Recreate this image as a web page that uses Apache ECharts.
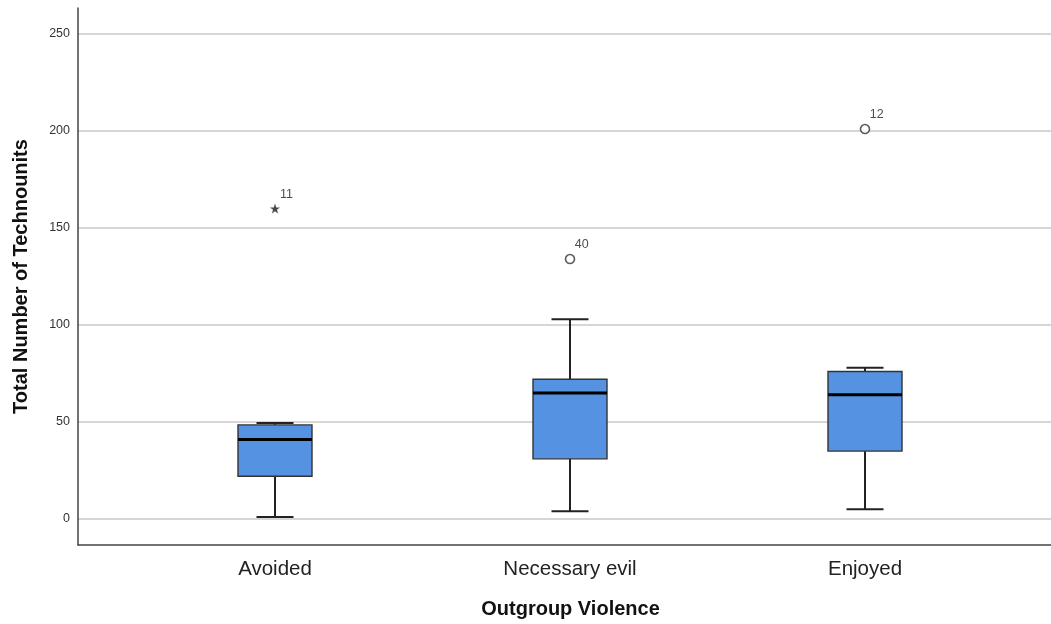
<!DOCTYPE html>
<html>
<head>
<meta charset="utf-8">
<title>Total Number of Technounits by Outgroup Violence</title>
<script src="https://cdn.jsdelivr.net/npm/echarts@6/dist/echarts.min.js"></script>
<style>
  html, body { margin: 0; padding: 0; background: #ffffff; }
  #chart { width: 1051px; height: 624px; }
</style>
</head>
<body>
<div id="chart"></div>
<script>
// Groups along the horizontal axis
const categories = ['Avoided', 'Necessary evil', 'Enjoyed'];

// Five-number summaries per group
const whiskerLow = [1, 4, 5];
const q1 = [22, 31, 35];
const medians = [41, 65, 64];
const q3 = [48.5, 72, 76];
const whiskerHigh = [49.5, 103, 78];

// Points beyond the whiskers: group position, value, case number, kind
const outlierGroup = [1, 2, 3];
const outlierValues = [160, 134, 201];
const outlierCase = ['11', '40', '12'];
const outlierKind = ['extreme', 'outlier', 'outlier'];

// Value axis ticks
const yTicks = [0, 50, 100, 150, 200, 250];

const FONT = '"Liberation Sans", Arial, sans-serif';
const BOX_W = 74;
const CAP_W = 37;

const boxData = categories.map((c, i) => [i + 1, whiskerLow[i], q1[i], medians[i], q3[i], whiskerHigh[i]]);

const STAR = 'path://M50,0 L61.8,35.1 L98.9,35.1 L69,56.9 L80.3,91.9 L50,70.2 L19.7,91.9 L31,56.9 L1.1,35.1 L38.2,35.1 Z';

const outlierData = outlierValues.map((v, i) => ({
  value: [outlierGroup[i], v],
  caseId: outlierCase[i],
  symbol: outlierKind[i] === 'extreme' ? STAR : 'circle',
  symbolSize: outlierKind[i] === 'extreme' ? 10 : 9,
  itemStyle: outlierKind[i] === 'extreme'
    ? { color: '#1a1a1a', borderWidth: 0 }
    : { color: '#fff', borderColor: '#333', borderWidth: 1.6 }
}));

function renderBox(params, api) {
  const x = api.value(0);
  const pLow = api.coord([x, api.value(1)]);
  const pQ1 = api.coord([x, api.value(2)]);
  const pMed = api.coord([x, api.value(3)]);
  const pQ3 = api.coord([x, api.value(4)]);
  const pHigh = api.coord([x, api.value(5)]);
  const cx = pMed[0];
  const whisker = { stroke: '#222', lineWidth: 2 };
  return {
    type: 'group',
    children: [
      { type: 'line', shape: { x1: cx, y1: pLow[1], x2: cx, y2: pQ1[1] }, style: whisker },
      { type: 'line', shape: { x1: cx, y1: pQ3[1], x2: cx, y2: pHigh[1] }, style: whisker },
      { type: 'line', shape: { x1: cx - CAP_W / 2, y1: pLow[1], x2: cx + CAP_W / 2, y2: pLow[1] }, style: whisker },
      { type: 'line', shape: { x1: cx - CAP_W / 2, y1: pHigh[1], x2: cx + CAP_W / 2, y2: pHigh[1] }, style: whisker },
      {
        type: 'rect',
        shape: { x: cx - BOX_W / 2, y: pQ3[1], width: BOX_W, height: pQ1[1] - pQ3[1] },
        style: { fill: '#5593E2', stroke: '#333', lineWidth: 1.4 }
      },
      { type: 'line', shape: { x1: cx - BOX_W / 2, y1: pMed[1], x2: cx + BOX_W / 2, y2: pMed[1] }, style: { stroke: '#000', lineWidth: 3 } }
    ]
  };
}

const chart = echarts.init(document.getElementById('chart'), null, { renderer: 'canvas' });

chart.setOption({
  backgroundColor: '#ffffff',
  animation: false,
  textStyle: { fontFamily: FONT },
  grid: { left: 78, right: 0, top: 8, bottom: 73.5, containLabel: false },
  xAxis: {
    type: 'value',
    min: 0.3322,
    max: 3.6305,
    name: 'Outgroup Violence',
    nameLocation: 'middle',
    nameGap: 54,
    nameTextStyle: { fontFamily: FONT, fontSize: 20, fontWeight: 'bold', color: '#111', padding: [0, 0, 0, 12] },
    axisLine: { show: true, onZero: false, lineStyle: { color: '#444', width: 1.5 } },
    axisTick: { show: false, customValues: [1, 2, 3] },
    splitLine: { show: false },
    axisLabel: {
      customValues: [1, 2, 3],
      formatter: v => categories[Math.round(v) - 1] || '',
      fontFamily: FONT,
      fontSize: 20.5,
      color: '#222',
      margin: 14
    }
  },
  yAxis: {
    type: 'value',
    min: -13.4,
    max: 263.4,
    name: 'Total Number of Technounits',
    nameLocation: 'middle',
    nameGap: 47,
    nameTextStyle: { fontFamily: FONT, fontSize: 20, fontWeight: 'bold', color: '#111' },
    axisLine: { show: true, lineStyle: { color: '#444', width: 1.5 } },
    axisTick: { show: false, customValues: yTicks },
    axisLabel: { customValues: yTicks, fontFamily: FONT, fontSize: 12.5, color: '#333', margin: 8 },
    splitLine: { show: true, lineStyle: { color: '#c8c8c8', width: 1.5 } }
  },
  series: [
    {
      type: 'custom',
      renderItem: renderBox,
      data: boxData,
      encode: { x: 0, y: [1, 2, 3, 4, 5] },
      z: 3
    },
    {
      type: 'scatter',
      data: outlierData,
      z: 4,
      label: {
        show: true,
        formatter: p => p.data.caseId,
        position: [10, -9],
        align: 'left',
        verticalAlign: 'middle',
        fontFamily: FONT,
        fontSize: 12.5,
        color: '#222'
      }
    }
  ]
});
</script>
</body>
</html>
